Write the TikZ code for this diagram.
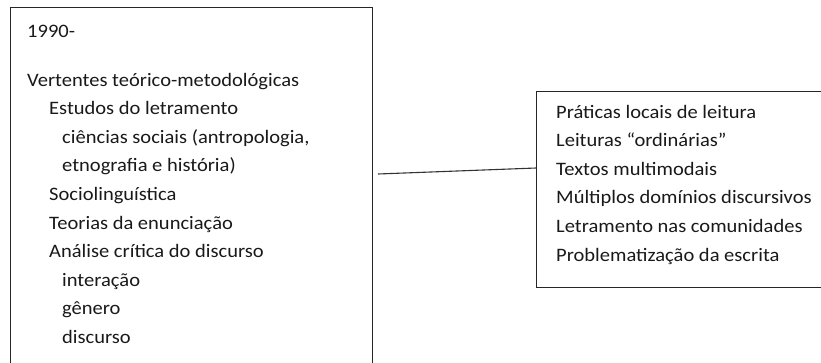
\documentclass[tikz,border=0pt]{standalone}
\usepackage{fontspec}
\setmainfont{Carlito}[FakeStretch=1.08]
\begin{document}
\begin{tikzpicture}[x=1pt,y=-1pt,
  box/.style={draw=black!85, line width=1.1pt, anchor=north west, inner sep=0pt},
  txt/.style={anchor=base west, inner sep=0pt, font=\fontsize{19}{23}\selectfont, text=black!90},
  link/.style={draw=black!80, line width=1.1pt}]
\useasboundingbox (0,0) rectangle (821,362);
\clip (0,0) rectangle (821,362);
% boxes
\node[box, minimum width=362pt, minimum height=370pt] (L) at (10,7) {};
\node[box, minimum width=300pt, minimum height=196pt] (R) at (536,91) {};
% left texts
\node[txt] (t1) at (27,37) {1990-};
\node[txt] (t2) at (27,86) {Vertentes teórico-metodológicas};
\node[txt] (t3) at (49,114.6) {Estudos do letramento};
\node[txt] (t4) at (62,143.2) {ciências sociais (antropologia,};
\node[txt] (t5) at (62,171.8) {etnografia e história)};
\node[txt] (t6) at (49,200.4) {Sociolinguística};
\node[txt] (t7) at (49,229) {Teorias da enunciação};
\node[txt] (t8) at (49,257.6) {Análise crítica do discurso};
\node[txt] (t9) at (62,286.2) {interação};
\node[txt] (t10) at (62,314.8) {gênero};
\node[txt] (t11) at (62,343.4) {discurso};
% right texts
\node[txt] (r1) at (556,118) {Práticas locais de leitura};
\node[txt] (r2) at (556,146.6) {Leituras “ordinárias”};
\node[txt] (r3) at (556,175.2) {Textos multimodais};
\node[txt] (r4) at (556,203.8) {Múltiplos domínios discursivos};
\node[txt] (r5) at (556,232.4) {Letramento nas comunidades};
\node[txt] (r6) at (556,261) {Problematização da escrita};
% connector
\coordinate (a) at (378,174);
\coordinate (b) at (R.west |- 0,168);
\draw[link] (a) -- (b);
\end{tikzpicture}
\end{document}
